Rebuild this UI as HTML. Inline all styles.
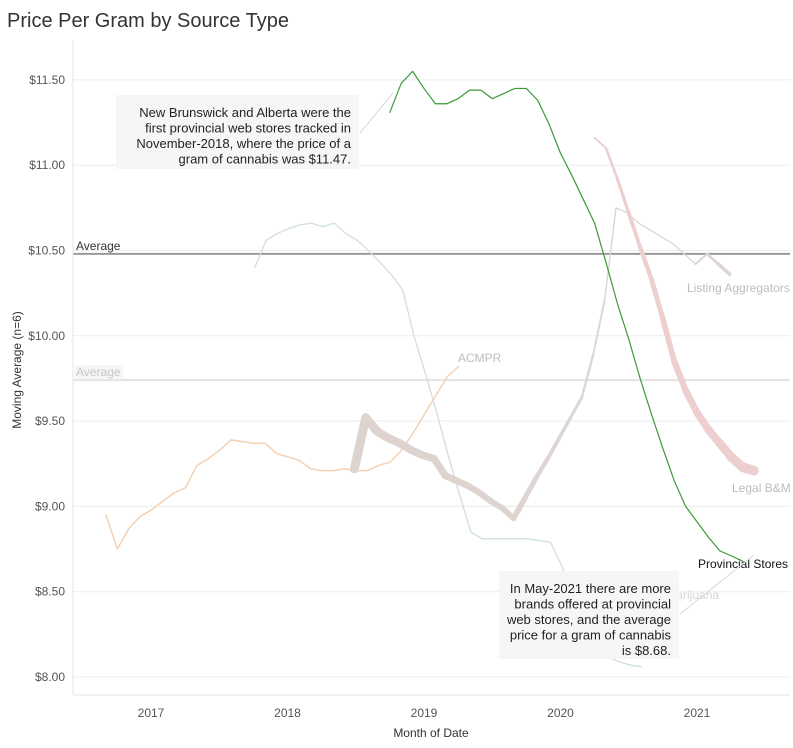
<!DOCTYPE html>
<html><head><meta charset="utf-8">
<style>
body{margin:0;background:#fff;font-family:"Liberation Sans",Arial,sans-serif;}
#wrap{position:relative;width:793px;height:748px;overflow:hidden;}
svg text{font-family:"Liberation Sans",Arial,sans-serif;}
</style></head>
<body>
<div id="wrap">
<svg id="chart" width="793" height="748">
<text x="7" y="27" font-size="20" fill="#333">Price Per Gram by Source Type</text>
<g id="grid"></g>
<g id="axes"></g>
<g id="series"></g>
<g id="ann"></g>
</svg>
</div>
<script>
const yTicks=[8.0,8.5,9.0,9.5,10.0,10.5,11.0,11.5];
const xTickYears=[2017,2018,2019,2020,2021];
const avgValues=[10.48,9.74];
const provStart=2018.75;
const provValues=[11.31,11.48,11.55,11.45,11.36,11.36,11.39,11.44,11.44,11.39,11.42,11.45,11.45,11.38,11.24,11.07,10.94,10.80,10.66,10.43,10.19,9.98,9.75,9.54,9.34,9.15,9.00,8.91,8.82,8.74,8.71,8.68];
const mailStart=2017.76;
const mailValues=[10.40,10.56,10.60,10.63,10.65,10.66,10.64,10.66,10.60,10.56,10.50,10.43,10.36,10.27,10.00,9.78,9.55,9.30,9.07,8.85,8.81,8.81,8.81,8.81,8.81,8.80,8.79,8.65,8.50,8.35,8.22,8.12,8.09,8.07,8.06];
const acmprStart=2016.67;
const acmprValues=[8.95,8.75,8.87,8.94,8.98,9.03,9.08,9.11,9.24,9.28,9.33,9.39,9.38,9.37,9.37,9.31,9.29,9.27,9.22,9.21,9.21,9.22,9.21,9.21,9.24,9.26,9.33,9.43,9.54,9.65,9.76,9.82];
const listStart=2018.49;
const listValues=[9.22,9.52,9.44,9.40,9.37,9.33,9.30,9.28,9.18,9.15,9.12,9.08,9.03,8.99,8.93,9.05,9.17,9.28,9.40,9.52,9.64,9.89,10.21,10.75,10.72,10.66,10.62,10.58,10.54,10.48,10.42,10.48,10.42,10.36];
const legalStart=2020.25;
const legalValues=[11.16,11.10,10.92,10.72,10.52,10.33,10.10,9.85,9.68,9.55,9.45,9.37,9.29,9.23,9.21];

const svgNS="http://www.w3.org/2000/svg";
const X0=151,PX_YEAR=136.5,Y0=677,PX_UNIT=170.6;
const L=73,R=790,T=40,B=695;
function xs(t){return X0+(t-2017)*PX_YEAR;}
function ys(v){return Y0-(v-8)*PX_UNIT;}
function mk(tag,attrs,parent){const e=document.createElementNS(svgNS,tag);for(const k in attrs)e.setAttribute(k,attrs[k]);parent.appendChild(e);return e;}
const grid=document.getElementById('grid'),axes=document.getElementById('axes'),ser=document.getElementById('series'),ann=document.getElementById('ann');

yTicks.forEach(v=>{
 const g=mk('line',{x1:L,x2:R,y1:ys(v),y2:ys(v),stroke:'#ececec','stroke-width':1},grid);
 
 
 const t=mk('text',{x:65,y:ys(v)+4,'text-anchor':'end','font-size':12,fill:'#555'},axes);
 t.textContent='$'+v.toFixed(2);
 
 
});
const la=mk('line',{x1:L,x2:L,y1:T,y2:B,stroke:'#e6e6e6'},axes);


const lb=mk('line',{x1:L,x2:R,y1:B,y2:B,stroke:'#e6e6e6'},axes);


xTickYears.forEach(y=>{
 const t=mk('text',{x:xs(y),y:717,'text-anchor':'middle','font-size':12,fill:'#555'},axes);
 t.textContent=y;
 
 
});
const xt=mk('text',{x:431,y:737,'text-anchor':'middle','font-size':12,fill:'#333'},axes);
xt.textContent='Month of Date';


const yt=mk('text',{x:21,y:370,'text-anchor':'middle','font-size':12,fill:'#333',transform:'rotate(-90 21 370)'},axes);
yt.textContent='Moving Average (n=6)';



// average lines
const avgStyles=[{c:'#9a9a9a',w:2,tc:'#333',tcol:null},{c:'#e2e2e2',w:2,tc:'#c8c8c8',tcol:'#f5f5f5'}];
avgValues.forEach((v,i)=>{
 const st=avgStyles[i];
 const l=mk('line',{x1:L,x2:R,y1:ys(v),y2:ys(v),stroke:st.c,'stroke-width':st.w},grid);
 
 
 if(st.tcol){const r=mk('rect',{x:75,y:ys(v)-15,width:48,height:14,fill:st.tcol},grid);
  
  }
 const t=mk('text',{x:76,y:ys(v)-4,'font-size':12,fill:st.tc},grid);
 t.textContent='Average';
 
 
});

function pts(start,vals){return vals.map((v,i)=>[xs(start+i/12),ys(v)]);}
function poly(p,color,w,name){
 const e=mk('polyline',{points:p.map(q=>q.join(',')).join(' '),fill:'none',stroke:color,'stroke-width':w,'stroke-linejoin':'round','stroke-linecap':'round'},ser);
 
 
}
function segs(p,color,wf,name){
 for(let i=0;i<p.length-1;i++){
  const e=mk('line',{x1:p[i][0],y1:p[i][1],x2:p[i+1][0],y2:p[i+1][1],stroke:typeof color==='function'?color(i):color,'stroke-width':wf(i,p.length),'stroke-linecap':'round'},ser);
  
  
 }
}
poly(pts(mailStart,mailValues),'#cfe0dc',1.3,'mail-order-line');
poly(pts(acmprStart,acmprValues),'#f3d2b5',1.5,'acmpr-line');
segs(pts(listStart,listValues),i=>i<15?'#ddd4d0':'#ddd6d4',(i)=>i<15?(9-i*0.25):(i<23?Math.max(1.3,5-(i-15)*0.5):(i<29?1.3:1.3+(i-29)*0.8)),'listing-aggregators-line');
segs(pts(legalStart,legalValues),'#edcfd0',(i,n)=>2+i*0.6,'legal-bm-line');
poly(pts(provStart,provValues),'#3c9a35',1.2,'provincial-stores-line');

// series labels
[['ACMPR',458,362,'#bdbdbd'],['Listing Aggregators',687,292,'#bdbdbd'],['Legal B&M',732,492,'#bdbdbd'],['Mail Order Marijuana',607,599,'#d5d5d5'],['Provincial Stores',698,568,'#111']].forEach(a=>{
 const t=mk('text',{x:a[1],y:a[2],'font-size':12,fill:a[3]},ann);
 t.textContent=a[0];
 
 
});

// annotations
const c1=mk('line',{x1:360,y1:133,x2:393,y2:93,stroke:'#d8d8d8'},ann);


const c2=mk('line',{x1:680,y1:614,x2:754,y2:555,stroke:'#d8d8d8'},ann);


function box(x,y,w,h,lines,name){
 const r=mk('rect',{x:x,y:y,width:w,height:h,fill:'#f6f6f6'},ann);
 
 
 lines.forEach((s,i)=>{
  const t=mk('text',{x:x+w-8,y:y+22+i*15.5,'text-anchor':'end','font-size':13,fill:'#222'},ann);
  t.textContent=s;
  
  
 });
}
box(116,95,243,74,['New Brunswick and Alberta were the','first provincial web stores tracked in','November-2018, where the price of a','gram of cannabis was $11.47.'],'annotation-nb-alberta');
box(499,571,180,88,['In May-2021 there are more','brands offered at provincial','web stores, and the average','price for a gram of cannabis','is $8.68.'],'annotation-may-2021');
</script>
</body></html>
